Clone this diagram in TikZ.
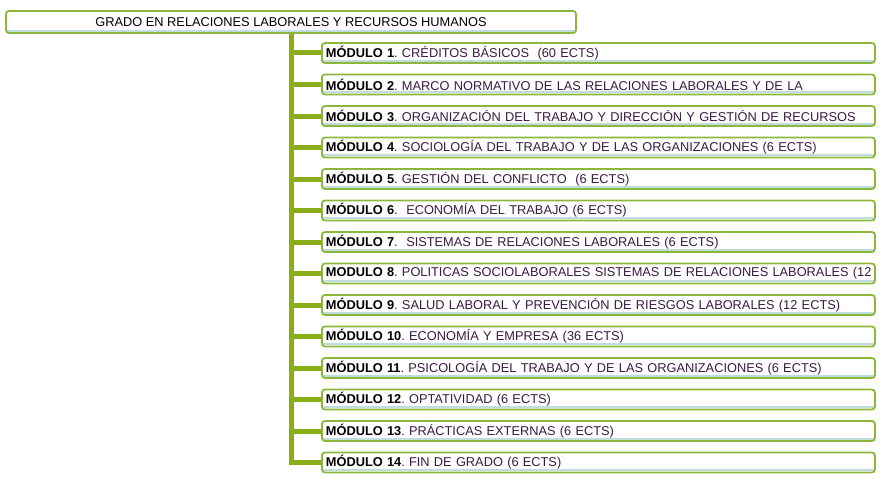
\documentclass[tikz,border=0pt]{standalone}
\usepackage{fontspec}
\setmainfont{Liberation Sans}
\definecolor{boxgreen}{HTML}{8DB63C}
\definecolor{trunkgreen}{HTML}{8AAE1A}
\definecolor{bandblue}{HTML}{BFDDDD}
\definecolor{txtpurple}{HTML}{3C1A44}
\tikzset{
  boxbase/.style={draw=boxgreen, line width=1.8pt, rounded corners=3pt, fill=white,
    inner ysep=0pt, inner xsep=4pt, font=\fontsize{12.8}{14}\selectfont,
    path picture={\draw[bandblue, line width=2pt]
      ([yshift=2.2pt]path picture bounding box.south west) --
      ([yshift=2.2pt]path picture bounding box.south east);}},
  titlebox/.style={boxbase, minimum width=570pt, minimum height=22pt, align=center},
  modbox/.style={boxbase, anchor=west, minimum height=20pt,
    text width=545pt, align=left, text=txtpurple},
  conn/.style={trunkgreen, line width=5pt, line join=miter},
}
\newcommand{\modlabel}[2]{\mbox{\textbf{\color{black}#1}.\ #2}}
\begin{document}
\begin{tikzpicture}[x=1pt,y=-1pt]
\useasboundingbox (0,0) rectangle (882,484);
\node[titlebox] (title) at (291,22) {GRADO EN RELACIONES LABORALES Y RECURSOS HUMANOS};
\node[modbox] (m1) at (321,53) {\modlabel{MÓDULO 1}{CRÉDITOS BÁSICOS \ (60 ECTS)}};
\node[modbox] (m2) at (321,84.5) {\modlabel{MÓDULO 2}{MARCO NORMATIVO DE LAS RELACIONES LABORALES Y DE LA}};
\node[modbox] (m3) at (321,116) {\modlabel{MÓDULO 3}{ORGANIZACIÓN DEL TRABAJO Y DIRECCIÓN Y GESTIÓN DE RECURSOS}};
\node[modbox] (m4) at (321,147.5) {\modlabel{MÓDULO 4}{SOCIOLOGÍA DEL TRABAJO Y DE LAS ORGANIZACIONES (6 ECTS)}};
\node[modbox] (m5) at (321,179) {\modlabel{MÓDULO 5}{GESTIÓN DEL CONFLICTO \ (6 ECTS)}};
\node[modbox] (m6) at (321,210.5) {\modlabel{MÓDULO 6}{\ ECONOMÍA DEL TRABAJO (6 ECTS)}};
\node[modbox] (m7) at (321,242) {\modlabel{MÓDULO 7}{\ SISTEMAS DE RELACIONES LABORALES (6 ECTS)}};
\node[modbox] (m8) at (321,273.5) {\modlabel{MODULO 8}{POLITICAS SOCIOLABORALES SISTEMAS DE RELACIONES LABORALES (12}};
\node[modbox] (m9) at (321,305) {\modlabel{MÓDULO 9}{SALUD LABORAL Y PREVENCIÓN DE RIESGOS LABORALES (12 ECTS)}};
\node[modbox] (m10) at (321,336.5) {\modlabel{MÓDULO 10}{ECONOMÍA Y EMPRESA (36 ECTS)}};
\node[modbox] (m11) at (321,368) {\modlabel{MÓDULO 11}{PSICOLOGÍA DEL TRABAJO Y DE LAS ORGANIZACIONES (6 ECTS)}};
\node[modbox] (m12) at (321,399.5) {\modlabel{MÓDULO 12}{OPTATIVIDAD (6 ECTS)}};
\node[modbox] (m13) at (321,431) {\modlabel{MÓDULO 13}{PRÁCTICAS EXTERNAS (6 ECTS)}};
\node[modbox] (m14) at (321,462.5) {\modlabel{MÓDULO 14}{FIN DE GRADO (6 ECTS)}};
\foreach \i in {1,...,14}{
  \draw[conn] (title.south) |- (m\i.west);
}
\end{tikzpicture}
\end{document}
